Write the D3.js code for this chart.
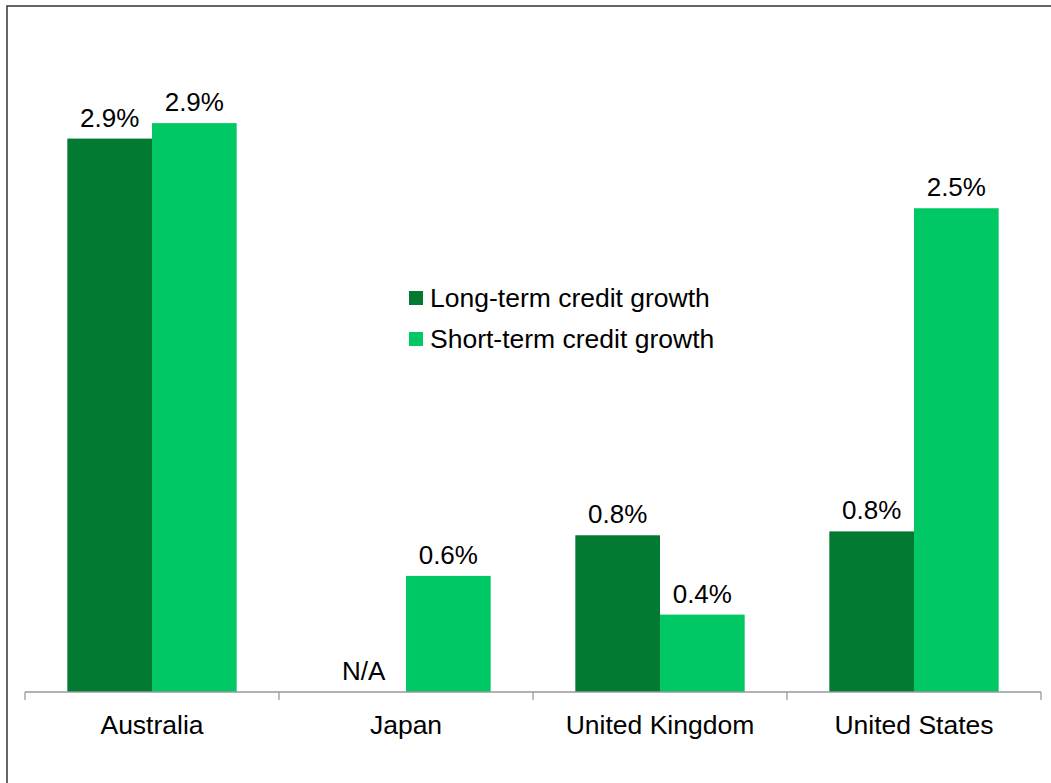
<!DOCTYPE html>
<html>
<head>
<meta charset="utf-8">
<script src="https://cdn.jsdelivr.net/npm/d3@7/dist/d3.min.js"></script>
<style>
  html, body { margin: 0; padding: 0; background: #fff; }
  svg { display: block; }
  text { font-family: "Liberation Sans", Arial, sans-serif; fill: #000; }
</style>
</head>
<body>
<svg id="chart" width="1051" height="783"></svg>
<script>
// Credit growth by country, percent
const countries = ["Australia", "Japan", "United Kingdom", "United States"];
const seriesNames = ["Long-term credit growth", "Short-term credit growth"];
const longTerm = [2.86, null, 0.81, 0.83];   // Japan: not available
const shortTerm = [2.94, 0.60, 0.40, 2.50];
const seriesColors = ["#037a31", "#00c864"];

const svg = d3.select("#chart");
const W = 1051, H = 783;

// outer frame (extends past the right and bottom edges)
svg.append("rect")
  .attr("x", 7).attr("y", 6)
  .attr("width", W + 20).attr("height", H + 20)
  .attr("fill", "none").attr("stroke", "#404040").attr("stroke-width", 1.6);

const plot = { left: 25, right: 1041, bottom: 692 };
const x0 = d3.scaleBand().domain(countries).range([plot.left, plot.right]).paddingInner(0).paddingOuter(0);
const x1 = d3.scaleBand().domain(seriesNames).range([0, x0.bandwidth()]).paddingInner(0).paddingOuter(0.5);
const y = d3.scaleLinear().domain([0, 3.5]).range([plot.bottom, plot.bottom - 3.5 * 193.5]);

const rows = countries.map((c, i) => ({
  country: c,
  values: [
    { series: seriesNames[0], value: longTerm[i], color: seriesColors[0] },
    { series: seriesNames[1], value: shortTerm[i], color: seriesColors[1] }
  ]
}));

const groups = svg.append("g").selectAll("g")
  .data(rows).join("g")
  .attr("transform", d => `translate(${x0(d.country)},0)`);

groups.selectAll("rect")
  .data(d => d.values.filter(v => v.value !== null))
  .join("rect")
  .attr("x", d => x1(d.series))
  .attr("width", x1.bandwidth())
  .attr("y", d => y(d.value))
  .attr("height", d => y(0) - y(d.value))
  .attr("fill", d => d.color);

groups.selectAll("text.val")
  .data(d => d.values)
  .join("text")
  .attr("class", "val")
  .attr("x", d => x1(d.series) + x1.bandwidth() / 2)
  .attr("y", d => (d.value === null ? y(0) : y(d.value)) - 12)
  .attr("text-anchor", "middle")
  .style("font-size", "26px")
  .text(d => d.value === null ? "N/A" : d.value.toFixed(1) + "%");

// category axis
const axis = svg.append("g")
  .attr("transform", `translate(0,${plot.bottom})`)
  .call(d3.axisBottom(x0).tickSize(0).tickPadding(0));
axis.select(".domain").attr("stroke", "#999").attr("stroke-width", 1.3).attr("d", `M${plot.left},0H${plot.right}`);
axis.selectAll(".tick text")
  .attr("y", 42)
  .attr("dy", null)
  .style("font-size", "26.5px")
  .style("font-family", '"Liberation Sans", Arial, sans-serif')
  .attr("fill", "#000");

const boundaries = countries.map(c => x0(c)).concat([x0(countries[countries.length - 1]) + x0.bandwidth()]);
axis.selectAll("line.sep")
  .data(boundaries).join("line")
  .attr("class", "sep")
  .attr("x1", d => d).attr("x2", d => d)
  .attr("y1", 0).attr("y2", 8)
  .attr("stroke", "#999").attr("stroke-width", 1.3);

// legend
const legend = svg.append("g").attr("transform", "translate(409,291)");
const items = legend.selectAll("g")
  .data(seriesNames).join("g")
  .attr("transform", (d, i) => `translate(0,${i * 41})`);
items.append("rect")
  .attr("width", 14).attr("height", 14)
  .attr("fill", (d, i) => seriesColors[i]);
items.append("text")
  .attr("x", 21).attr("y", 16)
  .style("font-size", "26.5px")
  .text(d => d);
</script>
</body>
</html>
